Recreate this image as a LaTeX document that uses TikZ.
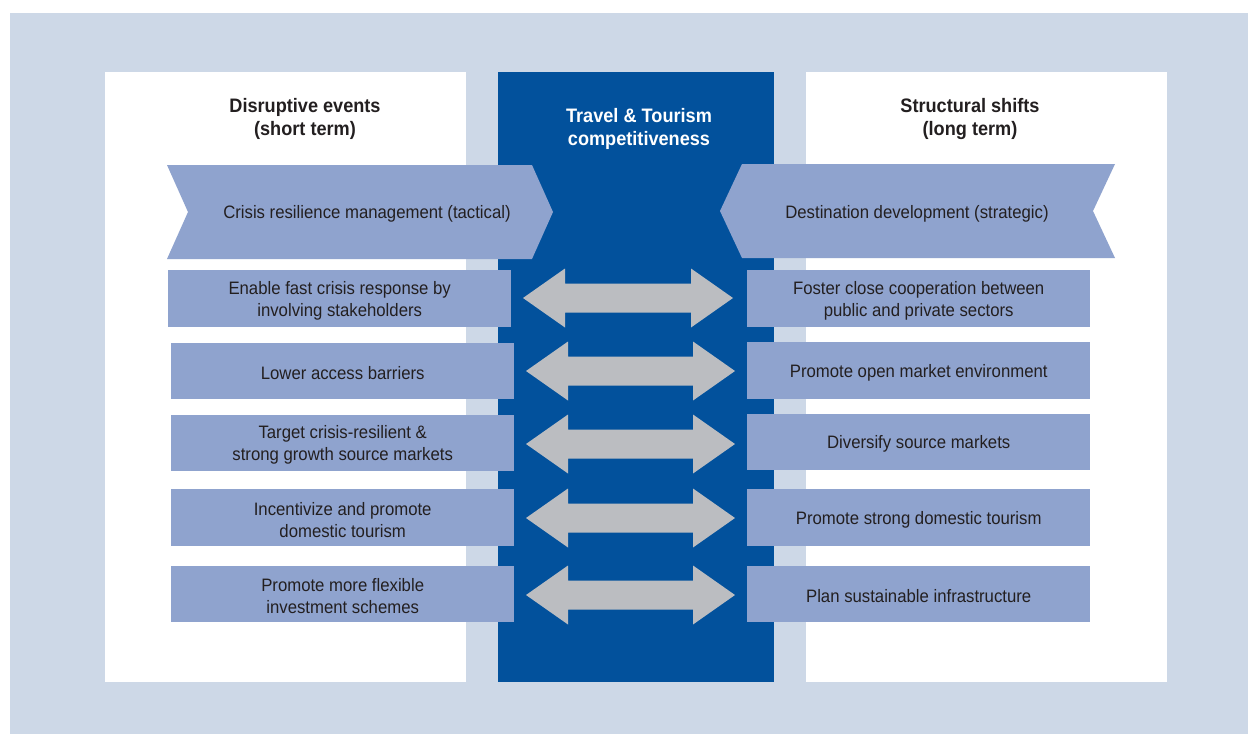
\documentclass[tikz,border=0pt]{standalone}
\usepackage{fontspec}
\setmainfont{Liberation Sans}[FakeStretch=0.93]
\definecolor{bgblue}{HTML}{CDD8E7}
\definecolor{darkblue}{HTML}{02519C}
\definecolor{boxblue}{HTML}{8FA3CE}
\definecolor{arrowgray}{HTML}{BBBDC1}
\definecolor{txt}{HTML}{231F20}
\begin{document}
\begin{tikzpicture}[x=1pt,y=-1pt,
  box/.style={fill=boxblue, draw=none, minimum width=343pt, inner sep=0pt, text=txt,
    font=\fontsize{18}{22}\selectfont, align=center, anchor=north west},
  boxtext/.style={text=txt, font=\fontsize{18}{22}\selectfont, align=center, inner sep=0pt},
  bannertext/.style={text=txt, font=\fontsize{18}{22}\selectfont, inner sep=0pt},
  header/.style={text=txt, font=\fontsize{19.5}{23}\selectfont\bfseries, align=center, inner sep=0pt},
  banner/.style={fill=boxblue, draw=none},
  dblarrow/.style={fill=arrowgray, draw=none}
]
\useasboundingbox (0,0) rectangle (1248,734);
% background
\fill[bgblue] (10,13) rectangle (1248,734);
% panels
\fill[white] (105,72) rectangle (466,682);
\fill[darkblue] (498,72) rectangle (774,682);
\fill[white] (806,72) rectangle (1167,682);

% headers
\node[header] (hl) at (305,119) {Disruptive events\\(short term)};
\node[header, text=white] (hc) at (639,129) {Travel \& Tourism\\competitiveness};
\node[header] (hr) at (970,119) {Structural shifts\\(long term)};

% banners
\fill[banner] (167,165) -- (532,165) -- (553,212) -- (532,259) -- (167,259) -- (188,212) -- cycle;
\fill[banner] (742,164) -- (1115,164) -- (1093,211) -- (1115,258) -- (742,258) -- (720,211) -- cycle;
\node[bannertext] (bl) at (367,214) {Crisis resilience management (tactical)};
\node[bannertext] (br) at (917,214) {Destination development (strategic)};

% left boxes
\node[box, minimum height=57pt] (l1) at (168,270) {};
\node[box, minimum height=56pt] (l2) at (171,343) {};
\node[box, minimum height=56pt] (l3) at (171,415) {};
\node[box, minimum height=57pt] (l4) at (171,489) {};
\node[box, minimum height=56pt] (l5) at (171,566) {};
% right boxes
\node[box, minimum height=57pt] (r1) at (747,270) {};
\node[box, minimum height=57pt] (r2) at (747,342) {};
\node[box, minimum height=56pt] (r3) at (747,414) {};
\node[box, minimum height=57pt] (r4) at (747,489) {};
\node[box, minimum height=56pt] (r5) at (747,566) {};

% box texts
\node[boxtext, yshift=-2pt] (tl1) at (l1.center) {Enable fast crisis response by\\involving stakeholders};
\node[boxtext, yshift=-2pt] (tl2) at (l2.center) {Lower access barriers};
\node[boxtext, yshift=-2pt] (tl3) at (l3.center) {Target crisis-resilient \&\\strong growth source markets};
\node[boxtext, yshift=-2pt] (tl4) at (l4.center) {Incentivize and promote\\domestic tourism};
\node[boxtext, yshift=-2pt] (tl5) at (l5.center) {Promote more flexible\\investment schemes};
\node[boxtext, yshift=-2pt] (tr1) at (r1.center) {Foster close cooperation between\\public and private sectors};
\node[boxtext, yshift=-2pt] (tr2) at (r2.center) {Promote open market environment};
\node[boxtext, yshift=-2pt] (tr3) at (r3.center) {Diversify source markets};
\node[boxtext, yshift=-2pt] (tr4) at (r4.center) {Promote strong domestic tourism};
\node[boxtext, yshift=-2pt] (tr5) at (r5.center) {Plan sustainable infrastructure};

% double arrows
\foreach \yc/\xl/\xr in {298/523/733, 371/526/735, 444/526/735, 518/526/735, 595/526/735}{
  \fill[dblarrow] (\xl,\yc) -- (\xl+42,\yc-29.5) -- (\xl+42,\yc-14.5) -- (\xr-42,\yc-14.5)
    -- (\xr-42,\yc-29.5) -- (\xr,\yc) -- (\xr-42,\yc+29.5) -- (\xr-42,\yc+14.5)
    -- (\xl+42,\yc+14.5) -- (\xl+42,\yc+29.5) -- cycle;
}
\end{tikzpicture}
\end{document}
